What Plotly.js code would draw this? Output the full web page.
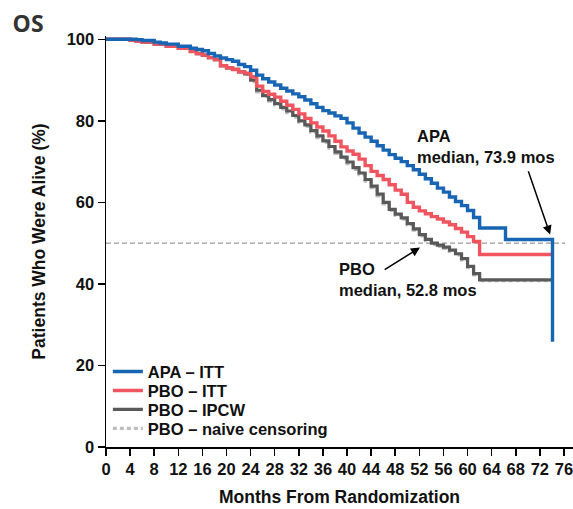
<!DOCTYPE html>
<html>
<head>
<meta charset="utf-8">
<script src="https://cdn.plot.ly/plotly-3.0.1.min.js"></script>
<style>html,body{margin:0;padding:0;background:#fff;}#chart{width:573px;height:509px;}</style>
</head>
<body>
<div id="chart"></div>
<script>
// ---- Data ----
const xTicks = [0,4,8,12,16,20,24,28,32,36,40,44,48,52,56,60,64,68,72,76];
const yTicks = [0,20,40,60,80,100];

const apaMonths = [0,4,5,6,8,9,10,12,14,15,16,17,18,19,20,21,22,23,24,25,26,27,28,29,30,31,32,33,34,35,36,37,38,39,40,41,42,43,44,45,46,47,48,49,50,51,52,53,54,55,56,57,58,59,60,61,62,66.3,74.1];
const apaSurv = [100,100,99.9,99.7,99.3,99.1,98.8,98.3,97.8,97.5,97.2,96.5,95.9,95.4,95.0,94.6,93.8,93.3,92.4,91.2,90.3,89.5,88.8,88.0,87.3,86.6,85.9,85.1,84.2,83.3,82.5,81.9,81.2,80.6,79.5,78.2,77.0,76.0,75.0,73.9,72.8,71.7,70.8,70.0,69.0,68.0,66.9,65.8,64.7,63.5,62.5,61.3,60.2,59.2,58.0,56.3,53.7,50.9,25.8];

const pboMonths = [0,3,4,5,6,8,10,12,14,15,16,17,18,19,20,21,22,23,24,25,26,27,28,29,30,31,32,33,34,35,36,37,38,39,40,41,42,43,44,45,46,47,48,49,50,51,52,53,54,55,56,57,58,59,60,61,62,74.1];
const pboSurv = [100,100,99.8,99.5,99.3,98.8,98.3,97.8,97.0,96.5,96.1,95.5,95.0,93.5,93.0,92.6,92.0,91.7,90.8,88.5,87.2,86.5,85.8,84.8,83.8,82.8,81.7,80.6,79.5,78.5,77.5,76.3,75.0,73.6,72.6,71.8,70.6,69.0,67.6,66.6,65.6,64.3,63.0,62.0,60.0,58.8,57.9,57.2,56.5,55.9,55.2,54.5,53.6,52.7,51.6,50.4,47.2,47.2];

const ipcwMonths = [0,3,4,5,6,8,10,12,14,15,16,17,18,19,20,21,22,23,24,25,26,27,28,29,30,31,32,33,34,35,36,37,38,39,40,41,42,43,44,45,46,47,48,49,50,51,52,53,54,55,56,57,58,59,60,61,62,74.1];
const ipcwSurv = [100,100,99.8,99.5,99.3,98.8,98.3,97.8,97.0,96.5,96.1,95.5,95.0,93.5,93.0,92.6,92.0,91.5,90.0,87.5,86.2,85.2,84.2,83.3,82.4,81.3,80.0,79.0,77.6,76.3,75.1,73.7,72.4,71.1,69.9,68.5,67.2,65.6,64.0,62.0,60.0,58.3,57.1,56.2,54.8,53.5,52.1,50.9,50.0,49.5,49.0,48.3,47.4,46.2,44.3,42.5,41.0,41.0];

const naiveMonths = [0,3,4,5,6,8,10,12,14,15,16,17,18,19,20,21,22,23,24,25,26,27,28,29,30,31,32,33,34,35,36,37,38,39,40,41,42,43,44,45,46,47,48,49,50,51,52,53,54,55,56,57,58,59,60,61,62,74.1];
const naiveSurv = [100,100,99.8,99.5,99.3,98.8,98.3,97.8,97.0,96.5,96.1,95.5,95.0,93.5,93.0,92.6,92.0,91.4,89.6,87.1,85.9,84.8,83.9,82.9,82.0,80.9,79.7,78.6,77.2,75.9,74.7,73.3,72.0,70.7,69.5,68.1,66.8,65.2,63.6,61.6,59.6,58.0,56.8,55.9,54.5,53.2,51.8,50.6,49.7,49.2,48.7,48.0,47.1,45.9,44.0,42.2,40.8,40.8];

const seriesNames = ["APA – ITT","PBO – ITT","PBO – IPCW","PBO – naive censoring"];
const medianLevel = 50;
const apaLabel = "APA<br>median, 73.9 mos";
const pboLabel = "PBO<br>median, 52.8 mos";

// ---- Styling ----
const FONT = "Liberation Sans, Arial, Helvetica, sans-serif";
const BLUE = "#1765b3", RED = "#f0545e", DGRAY = "#595959", LGRAY = "#bdbdbd";

const traces = [
  {x: naiveMonths, y: naiveSurv, name: seriesNames[3], mode: "lines", line: {shape: "hv", color: LGRAY, width: 3.2, dash: "4px,3px"}, legend: "legend4"},
  {x: ipcwMonths, y: ipcwSurv, name: seriesNames[2], mode: "lines", line: {shape: "hv", color: DGRAY, width: 3.2}, legend: "legend3"},
  {x: pboMonths, y: pboSurv, name: seriesNames[1], mode: "lines", line: {shape: "hv", color: RED, width: 3.4}, legend: "legend2"},
  {x: apaMonths, y: apaSurv, name: seriesNames[0], mode: "lines", line: {shape: "hv", color: BLUE, width: 3.4}, legend: "legend"}
];

const legFont = {family: FONT, size: 16.5, color: "#111", weight: "bold"};
function leg(ypx) {
  return {x: 0.004, xanchor: "left", y: (447.3 - ypx) / 411.3, yanchor: "middle",
          bgcolor: "rgba(0,0,0,0)", borderwidth: 0, font: legFont, itemwidth: 30};
}

const axisCommon = {
  showline: true, linecolor: "#000", linewidth: 1.5,
  ticks: "outside", ticklen: 7, tickwidth: 1.5, tickcolor: "#000",
  showgrid: false, zeroline: false, ticklabeloverflow: "allow",
  tickfont: {family: FONT, size: 16.5, color: "#111", weight: "bold"}
};

const layout = {
  width: 573, height: 509,
  margin: {l: 106, r: 0, t: 36, b: 62},
  paper_bgcolor: "#fff", plot_bgcolor: "#fff",
  showlegend: true,
  title: {text: "OS", xref: "container", yref: "container", x: 0.022, xanchor: "left", y: 0.952, yanchor: "middle",
          font: {family: "Open Sans, sans-serif", size: 23, color: "#333", weight: 700}},
  xaxis: Object.assign({}, axisCommon, {
    range: [0, 77.5], tickvals: xTicks, ticktext: xTicks.map(String),
    title: {text: "Months From Randomization", standoff: 13,
            font: {family: FONT, size: 17.5, color: "#111", weight: "bold"}}
  }),
  yaxis: Object.assign({}, axisCommon, {
    range: [0, 100.8], tickvals: yTicks, ticktext: yTicks.map(String),
    title: {text: "Patients Who Were Alive (%)", standoff: 16,
            font: {family: FONT, size: 17.5, color: "#111", weight: "bold"}}
  }),
  legend: leg(372), legend2: leg(391), legend3: leg(410), legend4: leg(429),
  shapes: [
    {type: "line", xref: "x", yref: "y", x0: 0, x1: 76.2, y0: medianLevel, y1: medianLevel,
     line: {color: "#999", width: 1.3, dash: "5px,3px"}, layer: "below"}
  ],
  annotations: [
    {text: apaLabel, xref: "x", yref: "y", x: 51.3, y: 73.7, xanchor: "left", yanchor: "middle",
     align: "left", showarrow: false, font: {family: FONT, size: 16.5, color: "#111", weight: "bold"}},
    {text: pboLabel, xref: "x", yref: "y", x: 38.3, y: 41.0, xanchor: "left", yanchor: "middle",
     align: "left", showarrow: false, font: {family: FONT, size: 16.5, color: "#111", weight: "bold"}},
    {text: "", xref: "x", yref: "y", x: 73.7, y: 52.1, axref: "x", ayref: "y", ax: 70.0, ay: 68.0,
     showarrow: true, arrowhead: 2, arrowsize: 1.2, arrowwidth: 1.5, arrowcolor: "#000"},
    {text: "", xref: "x", yref: "y", x: 52.1, y: 48.9, axref: "x", ayref: "y", ax: 46.0, ay: 43.3,
     showarrow: true, arrowhead: 2, arrowsize: 1.2, arrowwidth: 1.5, arrowcolor: "#000"}
  ]
};

Plotly.newPlot("chart", traces, layout, {displayModeBar: false, staticPlot: true});
</script>
</body>
</html>
